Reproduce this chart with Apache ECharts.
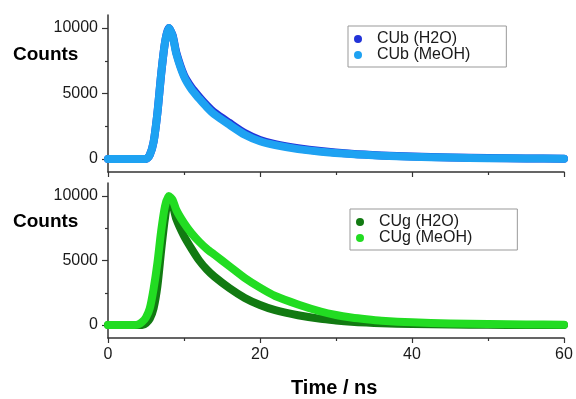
<!DOCTYPE html>
<html><head><meta charset="utf-8">
<script src="https://cdn.jsdelivr.net/npm/echarts@6/dist/echarts.min.js"></script>
<style>html,body{margin:0;padding:0;background:#fff}#c{width:576px;height:399px}</style>
</head><body><div id="c"></div>
<script>
// Time (ns) sample points
const timeTop = [0,5,5.5,6,6.5,7,7.5,8,8.5,9,10,11,12,13,14,16,18,20,22,25,28,32,36,40,45,50,55,60];
const cubH2O  = [0,0,300,1300,3500,6500,8900,10000,9450,8100,6400,5450,4750,4100,3550,2750,1980,1450,1130,820,600,400,270,180,105,65,40,22];
const cubMeOH = [0,0,300,1300,3500,6500,8900,10000,9400,8000,6300,5300,4600,3950,3400,2600,1850,1350,1050,750,550,370,250,170,100,60,35,20];

const timeBot = [0,3.5,4,4.5,5,5.5,6,6.5,7,7.5,8,8.5,9,10,11,12,13,14,16,18,20,22,25,28,30,32,34,36,40,45,50,55,60];
const cugH2O  = [0,0,0,0,150,500,1300,3000,5800,8300,9800,9300,8200,6900,5900,5000,4300,3750,2850,2100,1550,1150,760,480,360,260,190,140,80,40,20,10,5];
const cugMeOH = [0,0,50,250,600,1300,2800,4800,7300,9200,10000,9700,8900,7900,7100,6450,5900,5450,4550,3650,2900,2250,1600,1050,780,590,450,340,210,125,75,45,30];

const yTickLabels = [0,5000,10000];
const yMinorTicks = [2500,7500];

const FONT = "Arial, 'Liberation Sans', sans-serif";
const pair = (xs, ys) => xs.map((x,i)=>[x, ys[i]]);

const grids = [
  {left:108, top:15, width:456, height:157},
  {left:108, top:183, width:456, height:155}
];
function xAx(gi, showLabel){
  return {type:'value', gridIndex:gi, min:0, max:60, interval:20,
    axisLine:{show:true, onZero:false, lineStyle:{color:'#333', width:1.5}},
    axisTick:{show:true, inside:false, length:5, lineStyle:{color:'#333', width:1.2}},
    minorTick:{show:true, splitNumber:2, length:3, lineStyle:{color:'#333', width:1.2}},
    splitLine:{show:false},
    axisLabel:{show:showLabel, color:'#1a1a1a', fontFamily:FONT, fontSize:16, margin:9, formatter:v=>String(v)}};
}
function yAx(gi){
  return {type:'value', gridIndex:gi, min:-1000, max:11000,
    axisLine:{show:true, onZero:false, lineStyle:{color:'#333', width:1.5}},
    axisTick:{show:true, length:6, customValues:yTickLabels, lineStyle:{color:'#333', width:1.2}},
    splitLine:{show:false},
    axisLabel:{show:true, customValues:yTickLabels, color:'#1a1a1a', fontFamily:FONT, fontSize:16, margin:10, formatter:v=>String(v)}};
}
function yMinor(gi){
  return {type:'value', gridIndex:gi, min:-1000, max:11000, position:'left',
    axisLine:{show:false, onZero:false},
    axisTick:{show:true, length:3, customValues:yMinorTicks, lineStyle:{color:'#333', width:1.2}},
    splitLine:{show:false}, axisLabel:{show:false}};
}
function ser(name, xi, yi, data, color){
  return {name, type:'line', xAxisIndex:xi, yAxisIndex:yi, data, showSymbol:false, symbol:'circle',
    smooth:0.25, itemStyle:{color}, animation:false,
    lineStyle:{color, width:8, cap:'round', join:'round'}};
}
const legendBase = {orient:'vertical', icon:'circle', itemWidth:28, itemHeight:8, itemGap:0,
  borderColor:'#999', borderWidth:1, backgroundColor:'#fff',
  textStyle:{fontFamily:FONT, fontSize:16, color:'#1a1a1a', lineHeight:16}};

const chart = echarts.init(document.getElementById('c'), null, {renderer:'canvas'});
chart.setOption({
  animation:false,
  grid: grids,
  xAxis: [xAx(0,false), xAx(1,true)],
  yAxis: [yAx(0), yAx(1), yMinor(0), yMinor(1)],
  legend: [
    Object.assign({}, legendBase, {left:348, top:26, padding:[5,36,4,6], data:['CUb (H2O)','CUb (MeOH)']}),
    Object.assign({}, legendBase, {left:350, top:209, padding:[5,45,4,6], data:['CUg (H2O)','CUg (MeOH)']})
  ],
  series: [
    ser('CUb (H2O)', 0, 0, pair(timeTop, cubH2O), '#2233d8'),
    ser('CUb (MeOH)', 0, 0, pair(timeTop, cubMeOH), '#1ea2f2'),
    ser('CUg (H2O)', 1, 1, pair(timeBot, cugH2O), '#127a12'),
    ser('CUg (MeOH)', 1, 1, pair(timeBot, cugMeOH), '#22dc22')
  ],
  graphic: [
    {type:'text', left:13, top:45, style:{text:'Counts', fontFamily:FONT, fontSize:19, fontWeight:'bold', fill:'#000'}},
    {type:'text', left:13, top:212, style:{text:'Counts', fontFamily:FONT, fontSize:19, fontWeight:'bold', fill:'#000'}},
    {type:'text', left:291, top:378, style:{text:'Time / ns', fontFamily:FONT, fontSize:20, fontWeight:'bold', fill:'#000'}}
  ]
});
</script></body></html>
